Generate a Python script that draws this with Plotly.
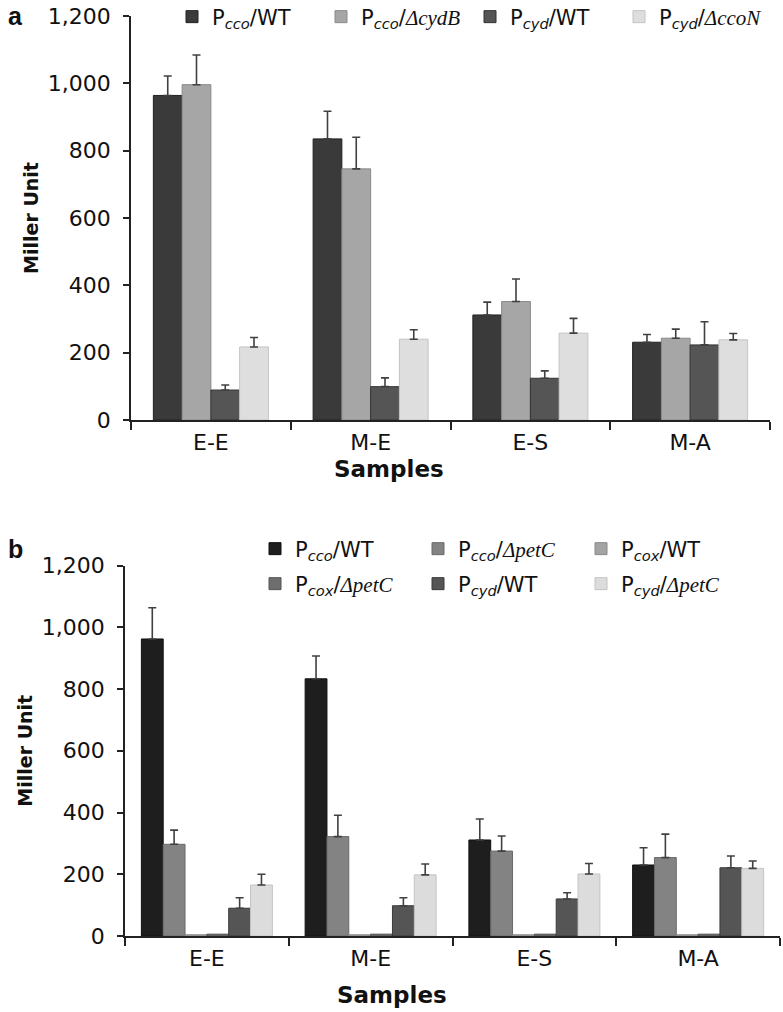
import plotly.graph_objects as go

W, H = 783, 1012

samples = ["E-E", "M-E", "E-S", "M-A"]
y_ticks = [0, 200, 400, 600, 800, 1000, 1200]

# Panel a
a_names = [
    "P<sub><i>cco</i></sub>/WT",
    "P<sub><i>cco</i></sub>/<span style=\"font-family:'Liberation Serif'\"><i>ΔcydB</i></span>",
    "P<sub><i>cyd</i></sub>/WT",
    "P<sub><i>cyd</i></sub>/<span style=\"font-family:'Liberation Serif'\"><i>ΔccoN</i></span>",
]
a_pcco_wt = [964, 835, 312, 231]
a_pcco_wt_err = [58, 82, 38, 23]
a_pcco_dcydB = [996, 746, 352, 243]
a_pcco_dcydB_err = [88, 94, 67, 27]
a_pcyd_wt = [89, 99, 124, 223]
a_pcyd_wt_err = [15, 26, 22, 69]
a_pcyd_dccoN = [217, 240, 258, 238]
a_pcyd_dccoN_err = [28, 28, 44, 19]
a_colors = ["#3a3a3a", "#a6a6a6", "#555555", "#dedede"]
a_lines = ["#222222", "#8a8a8a", "#333333", "#c4c4c4"]

# Panel b
b_names = [
    "P<sub><i>cco</i></sub>/WT",
    "P<sub><i>cco</i></sub>/<span style=\"font-family:'Liberation Serif'\"><i>ΔpetC</i></span>",
    "P<sub><i>cox</i></sub>/WT",
    "P<sub><i>cox</i></sub>/<span style=\"font-family:'Liberation Serif'\"><i>ΔpetC</i></span>",
    "P<sub><i>cyd</i></sub>/WT",
    "P<sub><i>cyd</i></sub>/<span style=\"font-family:'Liberation Serif'\"><i>ΔpetC</i></span>",
]
b_pcco_wt = [962, 833, 311, 230]
b_pcco_wt_err = [101, 74, 68, 56]
b_pcco_dpetC = [297, 322, 275, 254]
b_pcco_dpetC_err = [46, 69, 49, 76]
b_pcox_wt = [4, 4, 4, 4]
b_pcox_wt_err = [0, 0, 0, 0]
b_pcox_dpetC = [6, 6, 6, 6]
b_pcox_dpetC_err = [0, 0, 0, 0]
b_pcyd_wt = [90, 98, 120, 221]
b_pcyd_wt_err = [34, 26, 20, 38]
b_pcyd_dpetC = [165, 198, 201, 219]
b_pcyd_dpetC_err = [35, 35, 34, 24]
b_colors = ["#1e1e1e", "#838383", "#a3a3a3", "#6e6e6e", "#555555", "#dcdcdc"]
b_lines = ["#111111", "#6a6a6a", "#8a8a8a", "#555555", "#3a3a3a", "#c4c4c4"]

FONT = "DejaVu Sans"

fig = go.Figure()

a_vals = [a_pcco_wt, a_pcco_dcydB, a_pcyd_wt, a_pcyd_dccoN]
a_errs = [a_pcco_wt_err, a_pcco_dcydB_err, a_pcyd_wt_err, a_pcyd_dccoN_err]
wa = 0.18
for i in range(4):
    fig.add_trace(go.Bar(
        x=samples, y=a_vals[i], name=a_names[i],
        width=wa, offset=-2 * wa + i * wa,
        marker=dict(color=a_colors[i], line=dict(color=a_lines[i], width=1)),
        error_y=dict(type="data", array=a_errs[i], arrayminus=[0] * 4, symmetric=False,
                     color="#404040", thickness=1.6, width=4),
        xaxis="x", yaxis="y", legend="legend",
    ))

b_vals = [b_pcco_wt, b_pcco_dpetC, b_pcox_wt, b_pcox_dpetC, b_pcyd_wt, b_pcyd_dpetC]
b_errs = [b_pcco_wt_err, b_pcco_dpetC_err, b_pcox_wt_err, b_pcox_dpetC_err, b_pcyd_wt_err, b_pcyd_dpetC_err]
wb = 0.8 / 6
for i in range(6):
    fig.add_trace(go.Bar(
        x=samples, y=b_vals[i], name=b_names[i],
        width=wb, offset=-3 * wb + i * wb,
        marker=dict(color=b_colors[i], line=dict(color=b_lines[i], width=1)),
        error_y=dict(type="data", array=b_errs[i], arrayminus=[0] * 4, symmetric=False,
                     color="#404040", thickness=1.6, width=4,
                     visible=any(v > 0 for v in b_errs[i])),
        xaxis="x2", yaxis="y2", legend="legend2" if i < 3 else "legend3",
    ))

def px_x(p):
    return p / W

def px_y(p):
    return (H - p) / H

axis_common = dict(showline=True, linecolor="#222222", linewidth=1.6, showgrid=False,
                   zeroline=False, ticks="outside", tickcolor="#222222", tickwidth=1.6,
                   automargin=False,
                   tickfont=dict(family=FONT, size=22, color="#111111"))

legend_common = dict(orientation="h", xanchor="left", entrywidthmode="pixels",
                     bgcolor="rgba(0,0,0,0)", font=dict(family=FONT, size=21),
                     traceorder="normal")

ytitle = dict(text="<b>Miller Unit</b>", font=dict(family=FONT, size=19), standoff=4)

fig.update_layout(
    width=W, height=H,
    margin=dict(l=0, r=0, t=0, b=0, autoexpand=False),
    paper_bgcolor="white", plot_bgcolor="white",
    font=dict(family=FONT, color="#111111"),
    showlegend=True,
    xaxis=dict(domain=[px_x(131), px_x(770)], anchor="y", type="category",
               range=[-0.5, 3.5], tickson="boundaries", ticklen=8,
               ticklabelstandoff=2, **axis_common),
    yaxis=dict(domain=[px_y(420), px_y(16)], anchor="x", range=[0, 1200],
               tickvals=y_ticks, tickformat=",d", ticklen=6, ticklabelstandoff=8,
               title=ytitle, **axis_common),
    xaxis2=dict(domain=[px_x(125), px_x(780)], anchor="y2", type="category",
                range=[-0.5, 3.5], tickson="boundaries", ticklen=8,
                ticklabelstandoff=2, **axis_common),
    yaxis2=dict(domain=[px_y(936), px_y(565.5)], anchor="x2", range=[0, 1200],
                tickvals=y_ticks, tickformat=",d", ticklen=6, ticklabelstandoff=8,
                title=ytitle, **axis_common),
    legend=dict(x=px_x(172), y=px_y(17), yanchor="middle", entrywidth=104, **legend_common),
    legend2=dict(x=px_x(255), y=px_y(549), yanchor="middle", entrywidth=118, **legend_common),
    legend3=dict(x=px_x(255), y=px_y(584), yanchor="middle", entrywidth=118, **legend_common),
    annotations=[
        dict(text="<b>a</b>", x=px_x(6), y=px_y(16), xref="paper", yref="paper",
             xanchor="left", yanchor="middle", showarrow=False,
             font=dict(family="Liberation Sans", size=25, color="#111111")),
        dict(text="<b>b</b>", x=px_x(6), y=px_y(549), xref="paper", yref="paper",
             xanchor="left", yanchor="middle", showarrow=False,
             font=dict(family="Liberation Sans", size=25, color="#111111")),
        dict(text="<b>Samples</b>", x=px_x(389), y=px_y(469), xref="paper", yref="paper",
             xanchor="center", yanchor="middle", showarrow=False,
             font=dict(family=FONT, size=23, color="#111111")),
        dict(text="<b>Samples</b>", x=px_x(392), y=px_y(995), xref="paper", yref="paper",
             xanchor="center", yanchor="middle", showarrow=False,
             font=dict(family=FONT, size=23, color="#111111")),
    ],
)

fig.write_html("out.html", config={"displayModeBar": False},
               post_script="document.body.style.margin='0';")
